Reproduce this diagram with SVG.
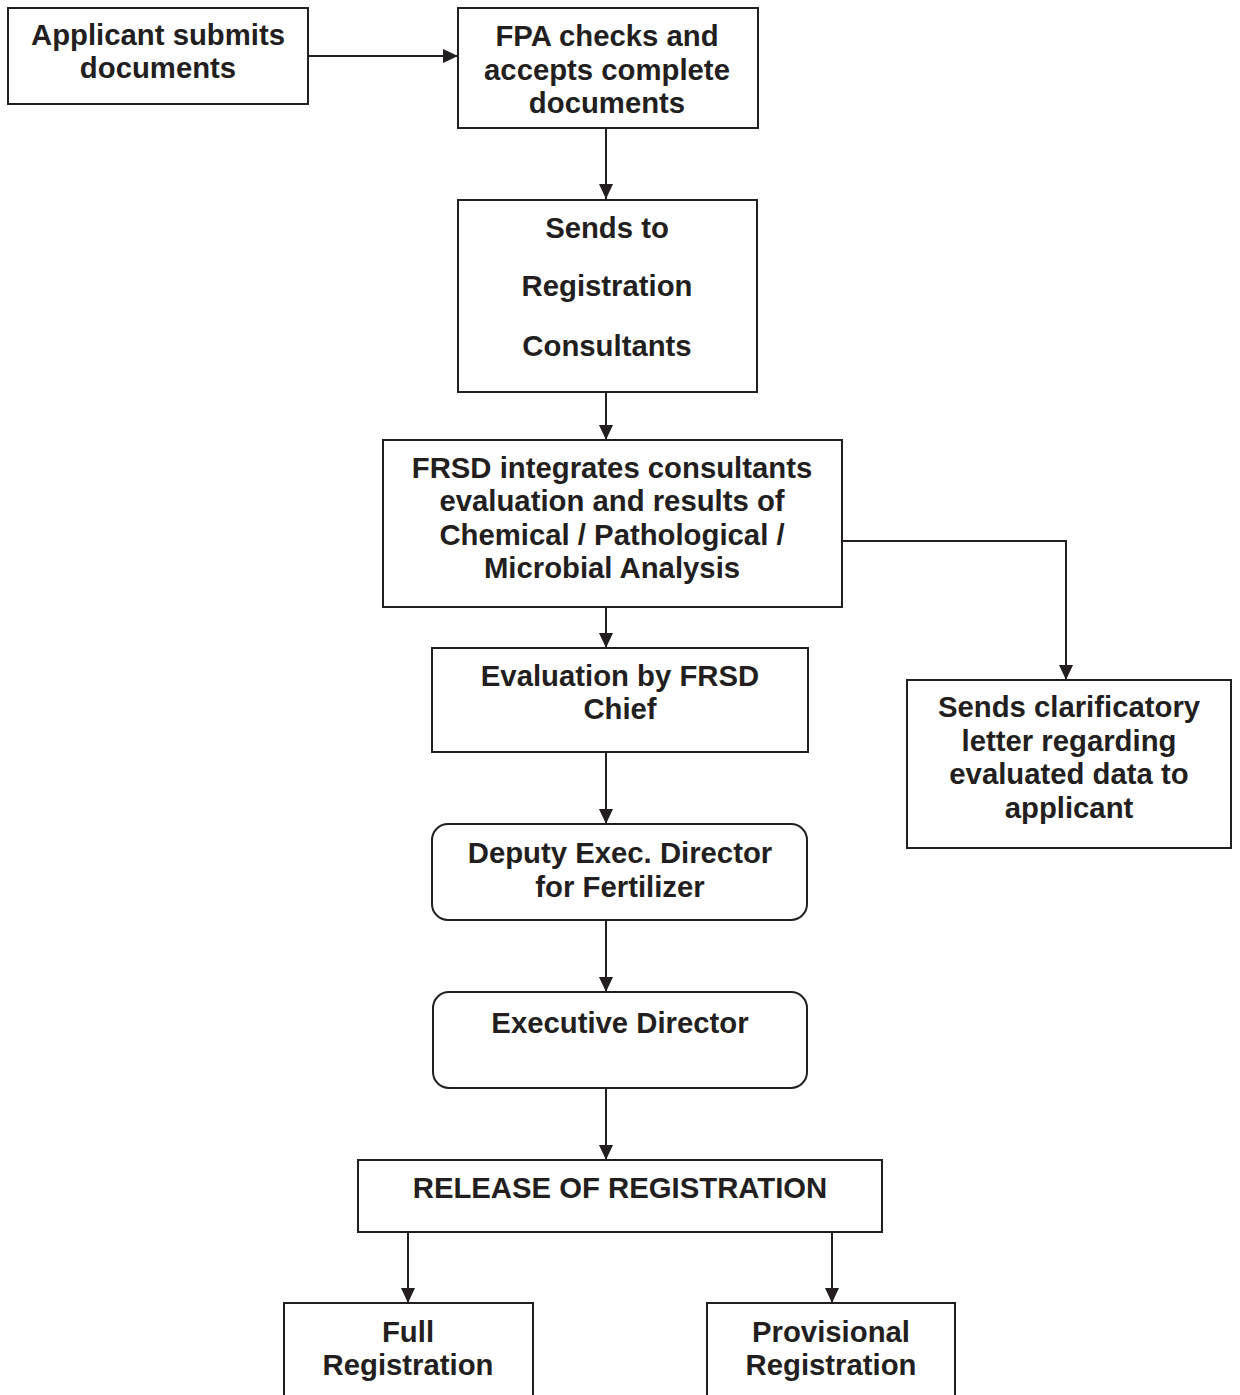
<svg xmlns="http://www.w3.org/2000/svg" width="1240" height="1395" viewBox="0 0 1240 1395">
<style>
.box{fill:#fff;stroke:#231f20;stroke-width:2}
.t{font-family:"Liberation Sans",Arial,sans-serif;font-weight:bold;font-size:29.3px;fill:#231f20;text-anchor:middle}
.c{fill:none;stroke:#231f20;stroke-width:2}
</style>
<defs>
<marker id="ah" markerUnits="userSpaceOnUse" markerWidth="15" markerHeight="14" refX="15" refY="7" orient="auto">
<path d="M0,0 L15,7 L0,14 z" fill="#231f20"/>
</marker>
</defs>
<rect width="1240" height="1395" fill="#fff"/>
<g id="connectors">
<line class="c" x1="308" y1="56" x2="458" y2="56" marker-end="url(#ah)"/>
<line class="c" x1="606" y1="128" x2="606" y2="199" marker-end="url(#ah)"/>
<line class="c" x1="606" y1="392" x2="606" y2="440" marker-end="url(#ah)"/>
<line class="c" x1="606" y1="607" x2="606" y2="648" marker-end="url(#ah)"/>
<polyline class="c" points="842,541 1066,541 1066,680" marker-end="url(#ah)"/>
<line class="c" x1="606" y1="752" x2="606" y2="824" marker-end="url(#ah)"/>
<line class="c" x1="606" y1="920" x2="606" y2="992" marker-end="url(#ah)"/>
<line class="c" x1="606" y1="1088" x2="606" y2="1160" marker-end="url(#ah)"/>
<line class="c" x1="408" y1="1232" x2="408" y2="1303" marker-end="url(#ah)"/>
<line class="c" x1="832" y1="1232" x2="832" y2="1303" marker-end="url(#ah)"/>
</g>
<g id="applicant">
<rect class="box" x="8" y="8" width="300" height="96"/>
<text class="t" x="158" y="45">Applicant submits</text>
<text class="t" x="158" y="78">documents</text>
</g>
<g id="fpa">
<rect class="box" x="458" y="8" width="300" height="120"/>
<text class="t" x="607" y="46">FPA checks and</text>
<text class="t" x="607" y="80">accepts complete</text>
<text class="t" x="607" y="113">documents</text>
</g>
<g id="sends">
<rect class="box" x="458" y="200" width="299" height="192"/>
<text class="t" x="607" y="238">Sends to</text>
<text class="t" x="607" y="296">Registration</text>
<text class="t" x="607" y="356">Consultants</text>
</g>
<g id="frsd">
<rect class="box" x="383" y="440" width="459" height="167"/>
<text class="t" x="612" y="478">FRSD integrates consultants</text>
<text class="t" x="612" y="511">evaluation and results of</text>
<text class="t" x="612" y="545">Chemical / Pathological /</text>
<text class="t" x="612" y="578">Microbial Analysis</text>
</g>
<g id="evaluation">
<rect class="box" x="432" y="648" width="376" height="104"/>
<text class="t" x="620" y="686">Evaluation by FRSD</text>
<text class="t" x="620" y="719">Chief</text>
</g>
<g id="clarificatory">
<rect class="box" x="907" y="680" width="324" height="168"/>
<text class="t" x="1069" y="717">Sends clarificatory</text>
<text class="t" x="1069" y="751">letter regarding</text>
<text class="t" x="1069" y="784">evaluated data to</text>
<text class="t" x="1069" y="818">applicant</text>
</g>
<g id="deputy">
<rect class="box" x="432" y="824" width="375" height="96" rx="16" ry="16"/>
<text class="t" x="620" y="863">Deputy Exec. Director</text>
<text class="t" x="620" y="897">for Fertilizer</text>
</g>
<g id="executive">
<rect class="box" x="433" y="992" width="374" height="96" rx="16" ry="16"/>
<text class="t" x="620" y="1033">Executive Director</text>
</g>
<g id="release">
<rect class="box" x="358" y="1160" width="524" height="72"/>
<text class="t" x="620" y="1198">RELEASE OF REGISTRATION</text>
</g>
<g id="full">
<rect class="box" x="284" y="1303" width="249" height="120"/>
<text class="t" x="408" y="1342">Full</text>
<text class="t" x="408" y="1375">Registration</text>
</g>
<g id="provisional">
<rect class="box" x="707" y="1303" width="248" height="120"/>
<text class="t" x="831" y="1342">Provisional</text>
<text class="t" x="831" y="1375">Registration</text>
</g>
</svg>
